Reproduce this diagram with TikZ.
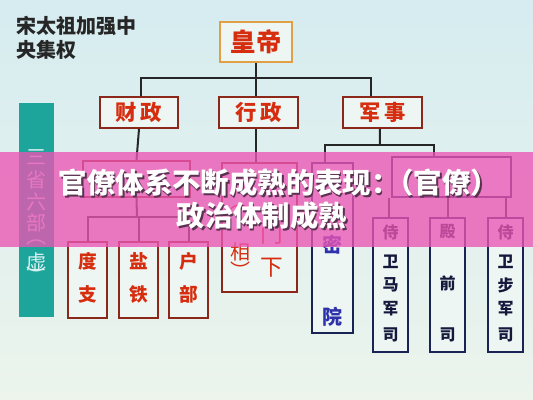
\documentclass[tikz,border=0pt]{standalone}
\usepackage{fontspec}
\newfontfamily\cjk{Noto Sans CJK SC}
\definecolor{bgtop}{RGB}{214,236,240}
\definecolor{bgbot}{RGB}{236,244,236}
\definecolor{boxfill}{RGB}{238,246,244}
\definecolor{redbrd}{RGB}{140,40,25}
\definecolor{redtxt}{RGB}{215,45,15}
\definecolor{gold}{RGB}{225,160,70}
\definecolor{navy}{RGB}{25,35,85}
\definecolor{navytxt}{RGB}{20,25,60}
\definecolor{bluetxt}{RGB}{45,50,170}
\definecolor{teal}{RGB}{30,165,155}
\definecolor{tealtxt}{RGB}{215,240,240}
\definecolor{banner}{RGB}{235,85,180}
\definecolor{shadowc}{RGB}{90,50,80}
\tikzset{
  bx/.style 2 args={minimum width=#1*0.75pt, minimum height=#2*0.75pt, inner sep=0pt},
  redbox/.style={draw=redbrd, line width=1.4pt, fill=boxfill, text=redtxt, font=\cjk\bfseries\fontsize{16}{18}\selectfont},
  navybox/.style={draw=navy, line width=1.4pt, fill=boxfill},
  conn/.style={draw=black!85, line width=1.5pt},
  vtxt/.style={inner sep=0pt, font=\cjk\bfseries\fontsize{14}{16}\selectfont, text=redtxt},
  mtxt/.style={inner sep=0pt, font=\cjk\bfseries\fontsize{12}{14}\selectfont, text=navytxt},
  bantxt/.style={inner sep=0pt, font=\cjk\bfseries\fontsize{21.3}{26}\selectfont},
}
\begin{document}
\begin{tikzpicture}[x=0.75pt,y=-0.75pt]
\useasboundingbox (0,0) rectangle (533,400);
\shade[top color=bgtop, bottom color=bgbot] (0,0) rectangle (533,400);

% title
\node[anchor=north west, inner sep=0pt, align=left, font=\cjk\bfseries\fontsize{15}{18}\selectfont, text=black!85] (title) at (16,16) {宋太祖加强中\\央集权};

% top level
\node[bx={72}{40}, draw=gold, line width=1.4pt, fill=boxfill, text=redtxt, font=\cjk\bfseries\fontsize{19}{20}\selectfont] (emp) at (256,42) {皇帝};
\node[bx={78}{31}, redbox] (cai) at (139,112.5) {财\,政};
\node[bx={79}{31}, redbox] (xing) at (258.5,112.5) {行\,政};
\node[bx={79}{31}, redbox] (jun) at (382.5,112.5) {军\,事};
\coordinate (bus) at (256,78);
\draw[conn] (emp.south) -- (bus);
\draw[conn] ([xshift=1.5pt]cai.north) |- (bus) -| ([xshift=-8.5pt]jun.north);
\draw[conn] ([xshift=-2pt]xing.north) -- ([xshift=-2pt]xing.north |- bus);

% left column
\node[bx={35}{214}, fill=teal] (sslb) at (36.5,210) {};
\foreach \c/\y in {三/157,省/180,六/202,部/223,︵/242,虚/262,︶/275}
  \node[inner sep=0pt, font=\cjk\fontsize{15}{16}\selectfont, text=tealtxt] at (36.5,\y) {\c};

% finance
\node[bx={107}{36}, draw=redbrd, line width=1.4pt, fill=boxfill] (sansi) at (136.5,179) {};
\node[bx={39}{76}, redbox] (duzhi) at (87.5,280) {};
\node[bx={39}{76}, redbox] (yantie) at (138.5,280) {};
\node[bx={39}{76}, redbox] (hubu) at (188.5,280) {};
\foreach \n/\a/\b in {duzhi/度/支,yantie/盐/铁,hubu/户/部}{
  \node[vtxt] at ([yshift=14pt]\n.center) {\a};
  \node[vtxt] at ([yshift=-11pt]\n.center) {\b};
}
\coordinate (fbus) at (137,217);
\draw[conn] (cai.south) -- (sansi.north);
\draw[conn] (sansi.south) -- (fbus);
\draw[conn] (duzhi.north) |- (fbus) -| (hubu.north);
\draw[conn] (yantie.north) -- (yantie.north |- fbus);

% administration
\node[bx={75}{129}, draw=redbrd, line width=1.4pt, fill=boxfill] (zsmx) at (259.5,227.5) {};
\draw[conn] ([xshift=-2pt]xing.south) -- ([xshift=-2pt]xing.south |- zsmx.north);
\foreach \c/\y in {门/234,下/268}
  \node[vtxt, font=\cjk\fontsize{17}{18}\selectfont] at (272,\y) {\c};
\foreach \c/\y in {︵/207,相/252,︶/270}
  \node[vtxt, font=\cjk\fontsize{15}{16}\selectfont] at (240,\y) {\c};

% military
\node[bx={41}{170}, navybox] (shumi) at (332.5,248) {};
\node[bx={119}{40}, navybox] (sanya) at (451.5,177) {};
\node[bx={35}{134}, navybox] (mjs) at (390.5,285) {};
\node[bx={35}{134}, navybox] (dqs) at (447.5,285) {};
\node[bx={35}{134}, navybox] (bjs) at (505.5,285) {};
\coordinate (mbus) at (380,145);
\draw[conn] ([xshift=-1.9pt]jun.south) -- (mbus);
\draw[conn] ([xshift=-5.6pt]shumi.north) |- (mbus) -| ([xshift=-13pt]sanya.north);
\draw[conn] ([xshift=-1pt]mjs.north) -- ([xshift=-1pt]mjs.north |- sanya.south);
\draw[conn] (dqs.north) -- (dqs.north |- sanya.south);
\draw[conn] (bjs.north) -- (bjs.north |- sanya.south);
\foreach \c/\y in {密/245,院/317}
  \node[inner sep=0pt, font=\cjk\bfseries\fontsize{15}{16}\selectfont, text=bluetxt] at (332.5,\y) {\c};
\foreach \n/\x in {mjs/390.5,bjs/505.5}{
  \node[mtxt] at (\x,232) {侍};
  \node[mtxt] at (\x,262) {卫};
  \node[mtxt] at (\x,309) {军};
  \node[mtxt] at (\x,335) {司};
}
\node[mtxt] at (390.5,285) {马};
\node[mtxt] at (505.5,285) {步};
\node[mtxt] at (447.5,232) {殿};
\node[mtxt] at (447.5,283) {前};
\node[mtxt] at (447.5,335) {司};

% banner
\fill[banner, opacity=0.78] (0,152) rectangle (533,247);
\foreach \dx/\col in {1.3/shadowc,0/white}{
  \node[bantxt, text=\col] at (272+\dx,183+\dx) {官僚体系不断成熟的表现：\kern-0.5em（官僚）\kern-0.5em};
  \node[bantxt, text=\col] at (262+\dx,216+\dx) {政治体制成熟};
}
\end{tikzpicture}
\end{document}
